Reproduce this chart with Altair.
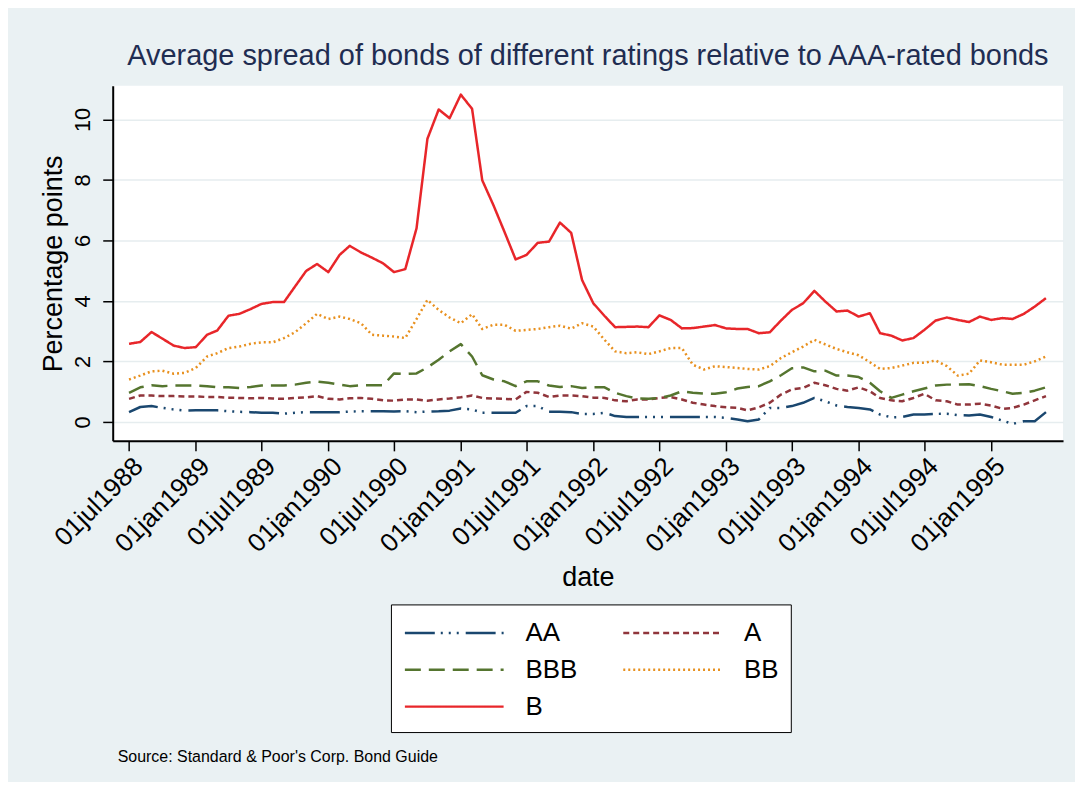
import altair as alt
import pandas as pd

# Monthly observations, Jul 1988 - Jun 1995
months = pd.date_range("1988-07-01", periods=84, freq="MS").strftime("%Y-%m-%d").tolist()

AA = [0.32, 0.49, 0.52, 0.46, 0.41, 0.37, 0.38, 0.38, 0.38, 0.35, 0.33, 0.32,
      0.30, 0.30, 0.27, 0.30, 0.32, 0.32, 0.32, 0.32, 0.34, 0.35, 0.35, 0.35,
      0.34, 0.35, 0.32, 0.34, 0.35, 0.37, 0.44, 0.41, 0.30, 0.30, 0.30, 0.30,
      0.52, 0.52, 0.33, 0.33, 0.32, 0.26, 0.26, 0.30, 0.19, 0.16, 0.16, 0.16,
      0.16, 0.16, 0.16, 0.16, 0.16, 0.16, 0.13, 0.08, 0.02, 0.08, 0.46, 0.46,
      0.52, 0.63, 0.79, 0.68, 0.54, 0.49, 0.46, 0.41, 0.24, 0.15, 0.16, 0.24,
      0.24, 0.26, 0.27, 0.22, 0.21, 0.24, 0.16, 0.04, -0.07, 0.02, 0.02, 0.32]

A = [0.76, 0.87, 0.87, 0.85, 0.85, 0.84, 0.84, 0.82, 0.82, 0.80, 0.79, 0.78,
     0.79, 0.77, 0.76, 0.79, 0.81, 0.85, 0.76, 0.74, 0.78, 0.79, 0.76, 0.71,
     0.70, 0.74, 0.74, 0.70, 0.74, 0.77, 0.81, 0.87, 0.79, 0.77, 0.76, 0.74,
     0.99, 0.96, 0.82, 0.87, 0.87, 0.85, 0.80, 0.79, 0.71, 0.68, 0.74, 0.74,
     0.79, 0.82, 0.74, 0.63, 0.57, 0.52, 0.48, 0.46, 0.38, 0.48, 0.63, 0.90,
     1.07, 1.12, 1.29, 1.21, 1.09, 1.03, 1.14, 1.01, 0.79, 0.71, 0.68, 0.79,
     0.93, 0.71, 0.68, 0.57, 0.57, 0.60, 0.54, 0.43, 0.46, 0.57, 0.71, 0.85]

BBB = [0.96, 1.14, 1.21, 1.18, 1.20, 1.20, 1.20, 1.18, 1.14, 1.14, 1.12, 1.15,
       1.20, 1.20, 1.20, 1.23, 1.29, 1.33, 1.29, 1.23, 1.18, 1.21, 1.21, 1.21,
       1.60, 1.58, 1.60, 1.80, 2.05, 2.33, 2.57, 2.16, 1.54, 1.40, 1.34, 1.18,
       1.34, 1.34, 1.20, 1.15, 1.18, 1.12, 1.14, 1.14, 0.96, 0.85, 0.77, 0.76,
       0.79, 0.87, 1.01, 0.96, 0.93, 0.93, 0.98, 1.10, 1.15, 1.18, 1.34, 1.54,
       1.77, 1.80, 1.67, 1.69, 1.53, 1.53, 1.48, 1.29, 1.01, 0.79, 0.90, 1.01,
       1.10, 1.20, 1.23, 1.23, 1.24, 1.18, 1.09, 1.01, 0.93, 0.96, 1.03, 1.14]

BB = [1.40, 1.53, 1.67, 1.69, 1.59, 1.62, 1.78, 2.16, 2.27, 2.44, 2.49, 2.58,
      2.63, 2.63, 2.77, 2.96, 3.26, 3.57, 3.40, 3.48, 3.40, 3.26, 2.88, 2.85,
      2.82, 2.77, 3.40, 4.03, 3.70, 3.45, 3.26, 3.56, 3.07, 3.21, 3.21, 3.01,
      3.04, 3.07, 3.13, 3.18, 3.08, 3.26, 3.15, 2.71, 2.33, 2.27, 2.30, 2.24,
      2.33, 2.44, 2.44, 1.89, 1.73, 1.84, 1.81, 1.78, 1.75, 1.73, 1.84, 2.11,
      2.30, 2.49, 2.71, 2.56, 2.41, 2.30, 2.20, 1.97, 1.75, 1.78, 1.86, 1.95,
      1.95, 2.03, 1.84, 1.53, 1.59, 2.03, 1.97, 1.89, 1.89, 1.89, 2.00, 2.16]

B = [2.58, 2.64, 2.97, 2.75, 2.52, 2.44, 2.47, 2.88, 3.02, 3.51, 3.57, 3.73,
     3.90, 3.96, 3.96, 4.47, 4.99, 5.22, 4.95, 5.52, 5.82, 5.60, 5.43, 5.24,
     4.95, 5.05, 6.40, 9.36, 10.33, 10.04, 10.82, 10.35, 7.99, 7.16, 6.29, 5.37,
     5.52, 5.92, 5.96, 6.59, 6.25, 4.69, 3.92, 3.50, 3.13, 3.14, 3.15, 3.13,
     3.52, 3.37, 3.09, 3.10, 3.15, 3.20, 3.09, 3.07, 3.07, 2.93, 2.96, 3.35,
     3.70, 3.92, 4.33, 3.98, 3.65, 3.68, 3.48, 3.59, 2.93, 2.85, 2.69, 2.77,
     3.04, 3.35, 3.45, 3.37, 3.30, 3.48, 3.37, 3.43, 3.40, 3.57, 3.81, 4.09]

series_names = ["AA", "A", "BBB", "BB", "B"]
series_values = [AA, A, BBB, BB, B]
colors = ["#1A476F", "#90353B", "#55752F", "#E8901E", "#E8262A"]
dashes = [[30, 6, 2, 6, 2, 6, 2, 7], [6, 4], [16, 8], [2, 3], [1, 0]]

tick_dates = [(1988, 7), (1989, 1), (1989, 7), (1990, 1), (1990, 7), (1991, 1),
              (1991, 7), (1992, 1), (1992, 7), (1993, 1), (1993, 7), (1994, 1),
              (1994, 7), (1995, 1)]
y_ticks = [0, 2, 4, 6, 8, 10]

title_text = "Average spread of bonds of different ratings relative to AAA-rated bonds"
source_text = "Source: Standard & Poor's Corp. Bond Guide"

rows = []
for name, vals in zip(series_names, series_values):
    for d, v in zip(months, vals):
        rows.append({"date": d, "rating": name, "value": v})
df = pd.DataFrame(rows)

FONT = "Liberation Sans"

lines = alt.Chart(df).mark_line(strokeWidth=2.5, strokeCap="butt", strokeJoin="round").encode(
    x=alt.X("date:T",
            scale=alt.Scale(type="utc",
                            domain=[alt.DateTime(year=1988, month=5, date=17, utc=True),
                                    alt.DateTime(year=1995, month=7, date=18, utc=True)]),
            axis=alt.Axis(values=[alt.DateTime(year=y, month=m, date=1, utc=True) for y, m in tick_dates],
                          labelExpr="lower(utcFormat(datum.value, '%d%b%Y'))",
                          labelAngle=315, labelAlign="right", labelBaseline="top",
                          labelFontSize=26, labelPadding=2, labelOverlap=False,
                          labelFlush=False, grid=False,
                          title="date", titleFontSize=27, titlePadding=8)),
    y=alt.Y("value:Q",
            scale=alt.Scale(domain=[-0.63, 11.11], nice=False, zero=False),
            axis=alt.Axis(values=y_ticks, labelAngle=270, labelAlign="center",
                          labelBaseline="bottom", labelFontSize=22, labelPadding=8,
                          grid=True, title="Percentage points", titleFontSize=27,
                          titlePadding=4)),
    color=alt.Color("rating:N", title=None,
                    scale=alt.Scale(domain=series_names, range=colors),
                    legend=alt.Legend(orient="none", legendX=279, legendY=520,
                                      direction="horizontal", columns=2,
                                      symbolType="M-3.3,0H3.3", symbolSize=900,
                                      symbolOffset=35, symbolStrokeWidth=2.5,
                                      labelFontSize=26, labelOffset=55,
                                      columnPadding=40, rowPadding=7,
                                      padding=12, fillColor="white", strokeColor="black",
                                      labelLimit=300)),
    strokeDash=alt.StrokeDash("rating:N", title=None,
                              scale=alt.Scale(domain=series_names, range=dashes)),
    order=alt.Order("date:T"),
)

source = alt.Chart(pd.DataFrame({"t": [source_text]})).mark_text(
    align="left", baseline="alphabetic", fontSize=16, font=FONT, color="black"
).encode(x=alt.value(5), y=alt.value(678), text="t:N")

chart = alt.layer(lines, source).properties(
    width=953, height=356,
    autosize=alt.AutoSizeParams(type="none"),
    padding={"left": 105, "top": 77, "right": 12, "bottom": 341},
    background="#EAF1F3",
    title=alt.TitleParams(title_text, fontSize=29, font=FONT, fontWeight="normal",
                          color="#1F2D52", anchor="middle", offset=15),
).configure_view(fill="white", strokeWidth=0).configure_axis(
    labelFont=FONT, titleFont=FONT, labelColor="black", titleColor="black",
    titleFontWeight="normal", domainColor="black", domainWidth=2,
    tickColor="black", tickWidth=1.5, tickSize=10,
    gridColor="#E6EDEF", gridWidth=1.5,
).configure_legend(labelFont=FONT, labelColor="black")

chart.save("out.html", embed_options={"renderer": "svg", "actions": False})
